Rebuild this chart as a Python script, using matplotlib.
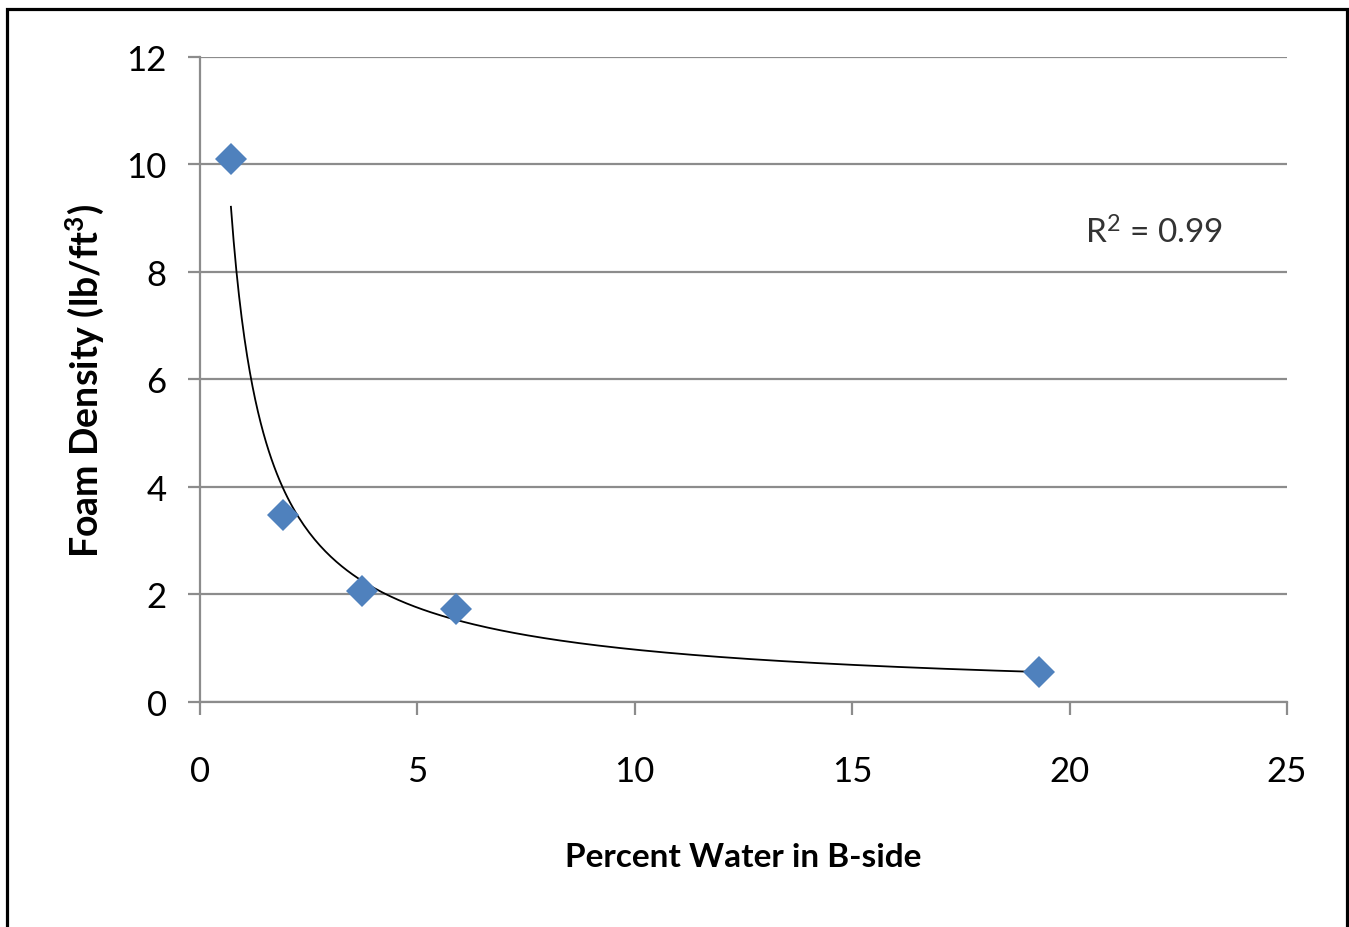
import numpy as np
import matplotlib
matplotlib.use("Agg")
import matplotlib.pyplot as plt
from matplotlib.patches import Rectangle

plt.rcParams['font.family'] = ['Lato', 'DejaVu Sans']
plt.rcParams['mathtext.fontset'] = 'custom'
plt.rcParams['mathtext.rm'] = 'Lato'
plt.rcParams['mathtext.it'] = 'Lato:italic'
plt.rcParams['mathtext.bf'] = 'Lato:bold'

# data
water_pct = [0.71, 1.91, 3.72, 5.88, 19.29]
density = [10.1, 3.48, 2.07, 1.73, 0.56]
x_ticks = [0, 5, 10, 15, 20, 25]
y_ticks = [0, 2, 4, 6, 8, 10, 12]
r2_label = r"R$^{\mathregular{2}}$ = 0.99"

# power trend line  y = a * x^b
b, log_a = np.polyfit(np.log(water_pct), np.log(density), 1)
xf = np.linspace(min(water_pct), max(water_pct), 300)
yf = np.exp(log_a) * xf ** b

fig = plt.figure(figsize=(13.49, 9.28), dpi=100)
ax = fig.add_axes([0.1483, 0.2425, 0.8057, 0.695])

grid_c = '#8c8c8c'
ax.set_xlim(0, 25)
ax.set_ylim(0, 12)
ax.set_xticks(x_ticks)
ax.set_yticks(y_ticks)
ax.yaxis.grid(True, color=grid_c, linewidth=1.6)
ax.set_axisbelow(True)
for s in ['top', 'right']:
    ax.spines[s].set_visible(False)
for s in ['left', 'bottom']:
    ax.spines[s].set_color(grid_c)
    ax.spines[s].set_linewidth(1.6)
ax.tick_params(axis='x', length=9, width=1.6, color=grid_c, pad=29, labelsize=25)
ax.tick_params(axis='y', length=9, width=1.6, color=grid_c, pad=15, labelsize=25)

ax.plot(xf, yf, color='black', linewidth=1.3, zorder=3)
ax.plot(water_pct, density, linestyle='none', marker='D', markersize=16,
        color='#4f81bd', markeredgewidth=0, zorder=4)

ax.text(20.35, 8.74, r2_label, fontsize=24, color='#333333', va='center', ha='left')

ax.set_xlabel("Percent Water in B-side", fontsize=24, fontweight='bold', labelpad=40)
ax.set_ylabel(r"Foam Density (lb/ft$^{\mathbf{3}}$)", fontsize=27, fontweight='bold', labelpad=15)

# outer frame
fig.patches.append(Rectangle((0.0055, -0.05), 0.993, 1.039, transform=fig.transFigure,
                             fill=False, edgecolor='black', linewidth=2.3))

fig.savefig("out.png", dpi=100)
